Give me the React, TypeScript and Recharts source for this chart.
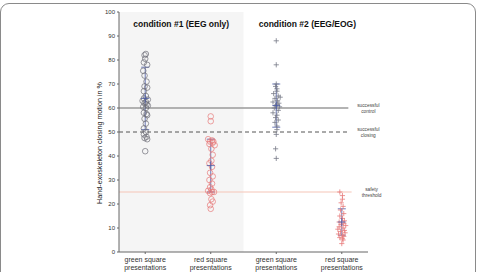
import React from "react";
import {
  ComposedChart,
  Scatter,
  XAxis,
  YAxis,
  ErrorBar,
  ReferenceArea,
  ReferenceLine,
} from "recharts";

const FONT = "Liberation Sans, Arial, Helvetica, sans-serif";

// category slots on the x axis
const categories = [1, 2, 3, 4];
const tickLines = [
  ["green square", "presentations"],
  ["red square", "presentations"],
  ["green square", "presentations"],
  ["red square", "presentations"],
];
const yTicks = [0, 10, 20, 30, 40, 50, 60, 70, 80, 90, 100];

// condition #1, green square trials (circles)
const green1 = [82.5, 82, 80.5, 79, 78, 75.5, 73.5, 71, 69, 68.5, 67, 65, 64, 63.5, 63, 62.5, 62, 61.5, 61, 60.5, 60, 58, 57.5, 57, 55.5, 53.5, 51.5, 50, 49, 48, 47.5, 47, 42];
const green1Jitter = [0.01, -0.01, 0, -0.02, 0.03, -0.03, -0.01, 0.02, -0.01, 0.03, -0.02, 0.01, -0.02, 0.04, -0.04, 0.01, -0.01, 0.02, 0.04, -0.03, 0.01, -0.02, 0.02, 0.03, -0.01, 0.01, -0.02, 0.01, -0.02, 0.02, -0.01, 0.03, 0];

// condition #1, red square trials (circles)
const red1 = [56.5, 54.5, 47, 46.5, 46, 46, 45.5, 45, 44.5, 43, 40.5, 38, 37, 35.5, 33, 31.5, 30, 28.5, 27, 26, 25.5, 25, 25, 24.5, 22, 21, 19.5, 18];
const red1Jitter = [0, 0, -0.04, 0.02, -0.01, 0.04, 0.03, -0.02, 0.06, 0.01, 0.03, 0.01, -0.02, 0.02, -0.01, 0.03, -0.02, 0.02, -0.01, 0.01, -0.04, 0.05, 0.02, -0.01, 0.01, 0.03, -0.01, 0];

// condition #2, green square trials (plus markers)
const green2 = [88, 78, 70, 69, 68, 67, 66, 65, 64.5, 64, 63, 62.5, 62, 61.5, 61, 60.5, 60, 59, 58, 57, 56, 55, 54, 52.5, 51, 49, 43, 39];
const green2Jitter = [0, 0, 0, -0.01, 0.01, 0.01, -0.04, 0.03, 0.06, -0.02, 0.02, -0.05, 0.04, 0.01, -0.01, 0.05, -0.03, 0.03, -0.05, 0.01, -0.01, 0.03, -0.02, 0.01, 0.01, 0, -0.01, 0];

// condition #2, red square trials (plus markers)
const red2 = [25, 23.5, 22, 20.5, 19, 17.5, 16, 15, 14, 13, 12.5, 12, 11.5, 11, 10.5, 10, 9.5, 9, 8.5, 8, 7.5, 7, 6.5, 6, 5.5, 5, 3.5];
const red2Jitter = [-0.03, 0.01, 0.01, -0.01, 0.02, -0.02, 0.03, -0.03, 0.01, 0.04, -0.04, 0.03, -0.01, 0.06, -0.04, 0.02, -0.06, 0.04, -0.02, 0.05, -0.05, 0.01, 0.03, -0.03, 0.01, 0.02, 0];

// mean and standard deviation per group
const means = [64, 36, 61, 12.5];
const stds = [13, 11, 9, 5.5];

// reference levels in %
const controlLevel = 60;
const closingLevel = 50;
const safetyLevel = 25;

const toPoints = (vals: number[], jitter: number[], slot: number) =>
  vals.map((y, i) => ({ x: slot + (jitter[i] || 0), y }));

const summary = categories.map((c, i) => ({ x: c, y: means[i], err: stds[i] }));

const Circle = (color: string) => (props: any) => (
  <circle cx={props.cx} cy={props.cy} r={2.8} fill="none" stroke={color} strokeWidth={0.7} />
);

const Plus = (color: string, s = 2.6) => (props: any) => (
  <path
    d={`M${props.cx - s},${props.cy}H${props.cx + s}M${props.cx},${props.cy - s}V${props.cy + s}`}
    stroke={color}
    strokeWidth={0.8}
  />
);

const XTick = (props: any) => {
  const { x, y, payload } = props;
  const lines = tickLines[categories.indexOf(payload.value)] || [];
  return (
    <text x={x} y={y} textAnchor="middle" fontSize={7} fontFamily={FONT} fill="#333">
      <tspan x={x} dy={5.5}>{lines[0]}</tspan>
      <tspan x={x} dy={8}>{lines[1]}</tspan>
    </text>
  );
};

const sideLabel = (top: string, bottom: string) => (props: any) => {
  const vb = props.viewBox || {};
  const x = vb.x + vb.width + 20;
  const y = vb.y;
  return (
    <text x={x} y={y} textAnchor="middle" fontSize={4.8} fontFamily={FONT} fill="#444">
      <tspan x={x} dy={-1.5}>{top}</tspan>
      <tspan x={x} dy={6.5}>{bottom}</tspan>
    </text>
  );
};

const App = () => {
  return (
    <div style={{ position: "absolute", left: 0, top: 0, width: 481, height: 272, overflow: "hidden", background: "#fff" }}>
      <div
        style={{
          position: "absolute",
          left: 0,
          top: 3,
          width: 474,
          height: 300,
          border: "1px solid #8a8a8a",
          borderRadius: 9,
        }}
      />
      <ComposedChart
        width={481}
        height={272}
        margin={{ top: 12, right: 113, bottom: 0, left: 89 }}
        style={{ position: "absolute", left: 0, top: 0 }}
      >
        <XAxis
          type="number"
          dataKey="x"
          domain={[0.6, 4.4]}
          ticks={categories}
          tick={<XTick />}
          tickSize={2}
          height={20}
          stroke="#666"
          allowDataOverflow
        />
        <YAxis
          type="number"
          dataKey="y"
          domain={[0, 100]}
          ticks={yTicks}
          width={30}
          tickSize={2}
          stroke="#666"
          tick={{ fontSize: 6, fontFamily: FONT, fill: "#333" }}
          label={{
            content: () => (
              <text
                transform="translate(102,143) rotate(-90)"
                textAnchor="middle"
                fontSize={7.2}
                fontFamily={FONT}
                fill="#111"
              >
                Hand-exoskeleton closing motion in %
              </text>
            ),
          }}
        />
        <ReferenceArea
          x1={0.6}
          x2={2.5}
          y1={0}
          y2={100}
          fill="#f5f5f5"
          fillOpacity={1}
          stroke="none"
          label={{
            value: "condition #1 (EEG only)",
            position: "insideTop",
            offset: 9,
            fontSize: 8.5,
            fontWeight: "bold",
            fontFamily: FONT,
            fill: "#111",
          }}
        />
        <ReferenceArea
          x1={2.5}
          x2={4.45}
          y1={0}
          y2={100}
          fill="none"
          stroke="none"
          ifOverflow="visible"
          label={{
            value: "condition #2 (EEG/EOG)",
            position: "insideTop",
            offset: 9,
            fontSize: 8.5,
            fontWeight: "bold",
            fontFamily: FONT,
            fill: "#111",
          }}
        />
        <ReferenceLine
          segment={[{ x: 0.6, y: controlLevel }, { x: 4.1, y: controlLevel }]}
          stroke="#9a9a9a"
          strokeWidth={1.4}
          label={{ content: sideLabel("successful", "control") }}
        />
        <ReferenceLine
          segment={[{ x: 0.6, y: closingLevel }, { x: 4.1, y: closingLevel }]}
          stroke="#555"
          strokeWidth={1}
          strokeDasharray="4 3"
          label={{ content: sideLabel("successful", "closing") }}
        />
        <ReferenceLine
          segment={[{ x: 0.6, y: safetyLevel }, { x: 4.15, y: safetyLevel }]}
          stroke="#f5c6b8"
          strokeWidth={1.2}
          label={{ content: sideLabel("safety", "threshold") }}
        />
        <Scatter data={toPoints(green1, green1Jitter, 1)} shape={Circle("#6e6e78")} isAnimationActive={false} />
        <Scatter data={toPoints(red1, red1Jitter, 2)} shape={Circle("#e77a7a")} isAnimationActive={false} />
        <Scatter data={toPoints(green2, green2Jitter, 3)} shape={Plus("#777a88")} isAnimationActive={false} />
        <Scatter data={toPoints(red2, red2Jitter, 4)} shape={Plus("#e77a7a")} isAnimationActive={false} />
        <Scatter data={summary} shape={Plus("#4a5aa8", 4)} isAnimationActive={false}>
          <ErrorBar dataKey="err" direction="y" width={4} stroke="#4a5aa8" strokeWidth={0.8} />
        </Scatter>
      </ComposedChart>
    </div>
  );
};

export default App;
